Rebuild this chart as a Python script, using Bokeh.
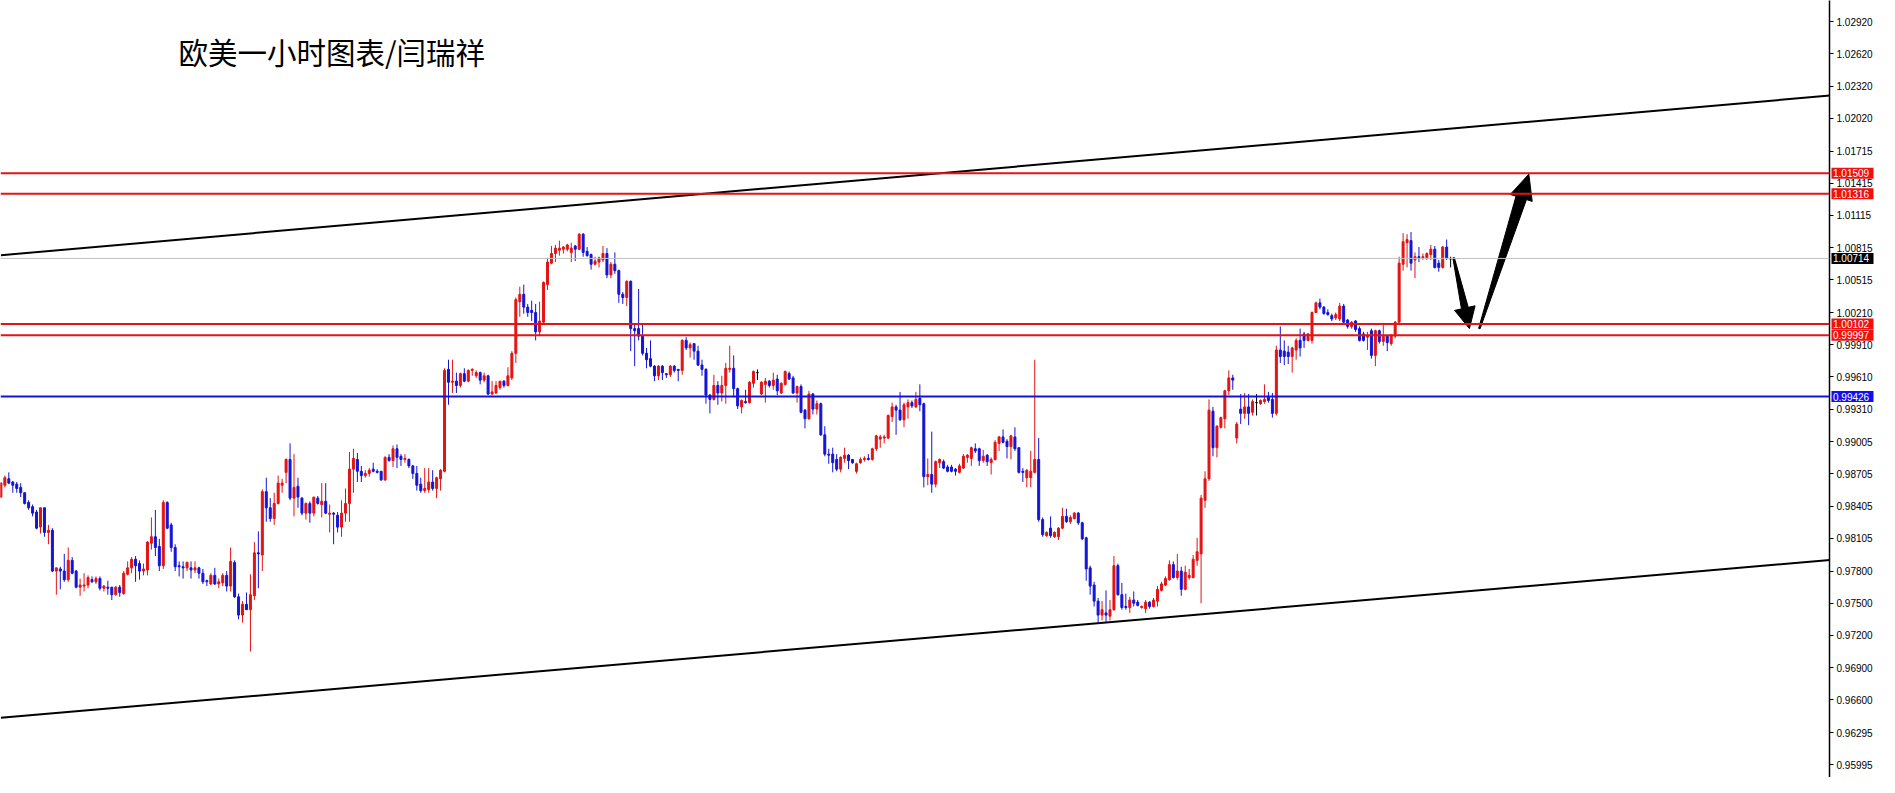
import math
from bokeh.plotting import figure
from bokeh.layouts import row
from bokeh.models import Range1d, FixedTicker, PrintfTickFormatter, Span, Label
from bokeh.core.properties import value
from bokeh.embed import file_html
from bokeh.resources import INLINE

TITLE = "欧美一小时图表/闫瑞祥"

OPEN = [
0.9849,0.9860,0.9866,0.9863,0.9861,0.9858,0.9853,0.9844,0.9840,0.9835,
0.9821,0.9839,0.9816,0.9818,0.9780,0.9782,0.9780,0.9772,0.9790,0.9780,
0.9765,0.9766,0.9767,0.9772,0.9770,0.9773,0.9764,0.9765,0.9765,0.9758,
0.9765,0.9759,0.9777,0.9783,0.9791,0.9787,0.9780,0.9781,0.9806,0.9812,
0.9803,0.9785,0.9844,0.9823,0.9802,0.9785,0.9784,0.9783,0.9783,0.9781,
0.9783,0.9778,0.9771,0.9768,0.9776,0.9768,0.9769,0.9776,0.9766,0.9788,
0.9756,0.9739,0.9749,0.9744,0.9757,0.9797,0.9795,0.9854,0.9839,0.9829,
0.9843,0.9860,0.9872,0.9884,0.9848,0.9859,0.9848,0.9834,0.9843,0.9834,
0.9848,0.9842,0.9845,0.9833,0.9834,0.9832,0.9821,0.9834,0.9843,0.9875,
0.9884,0.9873,0.9869,0.9871,0.9875,0.9873,0.9873,0.9865,0.9886,0.9883,
0.9894,0.9887,0.9884,0.9884,0.9878,0.9871,0.9861,0.9855,0.9856,0.9863,
0.9857,0.9866,0.9873,0.9968,0.9956,0.9957,0.9953,0.9964,0.9957,0.9967,
0.9962,0.9965,0.9958,0.9962,0.9945,0.9946,0.9951,0.9957,0.9953,0.9960,
0.9983,1.0031,1.0038,1.0026,1.0023,1.0021,1.0003,1.0012,1.0047,1.0067,
1.0076,1.0079,1.0080,1.0080,1.0077,1.0083,1.0080,1.0094,1.0078,1.0075,
1.0066,1.0068,1.0070,1.0076,1.0056,1.0066,1.0060,1.0038,1.0035,1.0050,
1.0006,1.0006,0.9999,0.9983,0.9978,0.9971,0.9962,0.9971,0.9964,0.9963,
0.9971,0.9968,0.9967,0.9995,0.9988,0.9992,0.9985,0.9972,0.9968,0.9944,
0.9940,0.9953,0.9946,0.9953,0.9968,0.9969,0.9950,0.9933,0.9938,0.9937,
0.9955,0.9965,0.9945,0.9954,0.9957,0.9953,0.9959,0.9946,0.9954,0.9964,
0.9960,0.9946,0.9952,0.9930,0.9922,0.9945,0.9931,0.9936,0.9907,0.9889,
0.9889,0.9884,0.9875,0.9885,0.9888,0.9884,0.9873,0.9881,0.9884,0.9885,
0.9884,0.9894,0.9903,0.9904,0.9904,0.9924,0.9933,0.9930,0.9921,0.9933,
0.9937,0.9933,0.9941,0.9936,0.9868,0.9870,0.9861,0.9881,0.9882,0.9877,
0.9877,0.9875,0.9872,0.9876,0.9886,0.9885,0.9894,0.9894,0.9883,0.9888,
0.9881,0.9884,0.9899,0.9905,0.9901,0.9896,0.9905,0.9895,0.9873,0.9867,
0.9867,0.9872,0.9884,0.9828,0.9813,0.9820,0.9812,0.9812,0.9820,0.9831,
0.9826,0.9829,0.9834,0.9825,0.9811,0.9783,0.9767,0.9752,0.9739,0.9741,
0.9738,0.9744,0.9785,0.9758,0.9747,0.9746,0.9753,0.9751,0.9746,0.9745,
0.9751,0.9747,0.9752,0.9762,0.9767,0.9772,0.9786,0.9774,0.9780,0.9763,
0.9774,0.9774,0.9790,0.9796,0.9846,0.9866,0.9929,0.9895,0.9914,0.9922,
0.9948,0.9960,0.9904,0.9931,0.9927,0.9933,0.9928,0.9937,0.9936,0.9938,
0.9943,0.9940,0.9927,0.9986,0.9985,0.9984,0.9980,0.9986,0.9995,1.0001,
0.9995,0.9995,1.0021,1.0030,1.0026,1.0021,1.0018,1.0016,1.0015,1.0027,
1.0014,1.0008,1.0013,1.0006,1.0001,0.9998,1.0004,0.9981,1.0004,0.9994,
0.9999,0.9992,0.9999,1.0012,1.0066,1.0086,1.0088,1.0070,1.0073,1.0072,
1.0072,1.0075,1.0080,1.0067,1.0063,1.0082,1.0071]

HIGH = [
0.9863,0.9869,0.9872,0.9864,0.9863,0.9862,0.9853,0.9846,0.9842,0.9837,
0.9839,0.9839,0.9823,0.9820,0.9783,0.9784,0.9796,0.9802,0.9793,0.9781,
0.9773,0.9778,0.9776,0.9775,0.9775,0.9775,0.9767,0.9771,0.9765,0.9766,
0.9767,0.9780,0.9789,0.9793,0.9794,0.9790,0.9787,0.9808,0.9830,0.9837,
0.9810,0.9846,0.9845,0.9825,0.9805,0.9789,0.9789,0.9789,0.9789,0.9789,
0.9784,0.9782,0.9772,0.9778,0.9783,0.9773,0.9778,0.9780,0.9802,0.9790,
0.9759,0.9752,0.9760,0.9777,0.9807,0.9817,0.9856,0.9867,0.9848,0.9853,
0.9869,0.9866,0.9885,0.9899,0.9889,0.9867,0.9849,0.9844,0.9845,0.9849,
0.9850,0.9862,0.9862,0.9842,0.9835,0.9835,0.9846,0.9857,0.9891,0.9894,
0.9890,0.9878,0.9874,0.9876,0.9881,0.9875,0.9873,0.9887,0.9889,0.9897,
0.9898,0.9889,0.9889,0.9885,0.9879,0.9878,0.9867,0.9876,0.9876,0.9874,
0.9868,0.9875,0.9969,0.9977,0.9977,0.9965,0.9965,0.9969,0.9968,0.9969,
0.9967,0.9966,0.9965,0.9963,0.9957,0.9957,0.9957,0.9958,0.9970,0.9985,
1.0035,1.0045,1.0047,1.0029,1.0032,1.0029,1.0031,1.0050,1.0072,1.0083,
1.0084,1.0088,1.0083,1.0085,1.0086,1.0084,1.0095,1.0095,1.0082,1.0076,
1.0073,1.0073,1.0083,1.0081,1.0068,1.0077,1.0061,1.0040,1.0051,1.0051,
1.0010,1.0043,1.0010,0.9988,0.9995,0.9972,0.9972,0.9972,0.9964,0.9972,
0.9972,0.9968,0.9996,0.9998,0.9993,0.9992,0.9990,0.9977,0.9969,0.9945,
0.9963,0.9957,0.9962,0.9974,0.9990,0.9981,0.9951,0.9940,0.9949,0.9957,
0.9967,0.9968,0.9957,0.9960,0.9958,0.9965,0.9963,0.9956,0.9967,0.9966,
0.9962,0.9953,0.9954,0.9931,0.9948,0.9946,0.9939,0.9937,0.9915,0.9894,
0.9895,0.9889,0.9887,0.9895,0.9889,0.9884,0.9881,0.9886,0.9887,0.9889,
0.9895,0.9907,0.9907,0.9907,0.9926,0.9937,0.9935,0.9947,0.9937,0.9940,
0.9939,0.9947,0.9954,0.9937,0.9885,0.9910,0.9883,0.9885,0.9884,0.9879,
0.9879,0.9876,0.9880,0.9889,0.9889,0.9896,0.9899,0.9895,0.9893,0.9889,
0.9886,0.9902,0.9906,0.9912,0.9903,0.9907,0.9914,0.9895,0.9876,0.9875,
0.9892,0.9977,0.9904,0.9830,0.9817,0.9831,0.9817,0.9821,0.9839,0.9838,
0.9832,0.9835,0.9835,0.9826,0.9812,0.9785,0.9770,0.9755,0.9752,0.9762,
0.9753,0.9794,0.9787,0.9769,0.9759,0.9756,0.9761,0.9753,0.9748,0.9753,
0.9752,0.9755,0.9766,0.9770,0.9775,0.9790,0.9789,0.9796,0.9784,0.9785,
0.9782,0.9795,0.9811,0.9851,0.9873,0.9940,0.9933,0.9916,0.9924,0.9949,
0.9967,0.9963,0.9919,0.9945,0.9946,0.9945,0.9940,0.9945,0.9940,0.9954,
0.9947,0.9946,0.9990,1.0008,0.9995,0.9990,0.9989,0.9997,1.0006,1.0003,
1.0002,1.0022,1.0031,1.0034,1.0027,1.0024,1.0020,1.0021,1.0030,1.0029,
1.0015,1.0013,1.0014,1.0008,1.0003,1.0003,1.0006,1.0005,1.0005,1.0010,
1.0000,1.0001,1.0013,1.0073,1.0095,1.0094,1.0096,1.0077,1.0082,1.0076,
1.0077,1.0084,1.0083,1.0070,1.0083,1.0089,1.0073]

LOW = [
0.9848,0.9858,0.9861,0.9853,0.9853,0.9849,0.9842,0.9837,0.9831,0.9819,
0.9815,0.9812,0.9805,0.9779,0.9758,0.9763,0.9770,0.9770,0.9777,0.9764,
0.9757,0.9761,0.9764,0.9769,0.9768,0.9762,0.9761,0.9758,0.9753,0.9757,
0.9756,0.9758,0.9776,0.9778,0.9770,0.9772,0.9776,0.9776,0.9800,0.9794,
0.9780,0.9782,0.9819,0.9798,0.9780,0.9775,0.9773,0.9780,0.9773,0.9778,
0.9773,0.9768,0.9766,0.9767,0.9767,0.9764,0.9766,0.9761,0.9761,0.9755,
0.9735,0.9732,0.9744,0.9705,0.9753,0.9764,0.9780,0.9826,0.9826,0.9823,
0.9842,0.9853,0.9862,0.9846,0.9831,0.9839,0.9832,0.9828,0.9825,0.9831,
0.9842,0.9830,0.9833,0.9816,0.9805,0.9816,0.9812,0.9826,0.9826,0.9853,
0.9863,0.9863,0.9867,0.9868,0.9872,0.9871,0.9864,0.9864,0.9882,0.9877,
0.9876,0.9878,0.9881,0.9876,0.9866,0.9855,0.9853,0.9853,0.9853,0.9855,
0.9848,0.9855,0.9872,0.9935,0.9946,0.9946,0.9951,0.9956,0.9956,0.9962,
0.9960,0.9954,0.9956,0.9944,0.9944,0.9945,0.9949,0.9951,0.9952,0.9958,
0.9974,1.0017,1.0020,1.0017,1.0013,0.9995,0.9999,1.0010,1.0042,1.0066,
1.0068,1.0074,1.0076,1.0078,1.0068,1.0069,1.0079,1.0073,1.0073,1.0061,
1.0065,1.0063,1.0068,1.0053,1.0053,1.0057,1.0030,1.0029,1.0027,0.9985,
0.9971,0.9995,0.9981,0.9969,0.9970,0.9957,0.9958,0.9958,0.9960,0.9961,
0.9965,0.9957,0.9963,0.9986,0.9979,0.9977,0.9971,0.9962,0.9936,0.9927,
0.9939,0.9935,0.9938,0.9936,0.9965,0.9942,0.9931,0.9927,0.9936,0.9936,
0.9951,0.9958,0.9944,0.9937,0.9951,0.9949,0.9944,0.9945,0.9953,0.9958,
0.9945,0.9937,0.9927,0.9913,0.9921,0.9926,0.9926,0.9906,0.9887,0.9880,
0.9872,0.9873,0.9872,0.9881,0.9875,0.9880,0.9871,0.9880,0.9882,0.9883,
0.9883,0.9892,0.9895,0.9899,0.9903,0.9919,0.9907,0.9920,0.9914,0.9922,
0.9932,0.9932,0.9929,0.9858,0.9860,0.9853,0.9858,0.9876,0.9875,0.9872,
0.9872,0.9869,0.9871,0.9875,0.9881,0.9878,0.9890,0.9878,0.9881,0.9878,
0.9870,0.9883,0.9892,0.9899,0.9885,0.9884,0.9892,0.9871,0.9863,0.9858,
0.9858,0.9871,0.9826,0.9812,0.9812,0.9811,0.9811,0.9809,0.9819,0.9825,
0.9824,0.9828,0.9823,0.9809,0.9771,0.9758,0.9747,0.9731,0.9734,0.9732,
0.9734,0.9743,0.9757,0.9744,0.9744,0.9741,0.9747,0.9747,0.9745,0.9741,
0.9745,0.9746,0.9747,0.9761,0.9766,0.9771,0.9773,0.9772,0.9757,0.9762,
0.9772,0.9773,0.9785,0.9750,0.9839,0.9864,0.9887,0.9886,0.9913,0.9913,
0.9944,0.9949,0.9899,0.9917,0.9922,0.9916,0.9925,0.9925,0.9935,0.9936,
0.9937,0.9923,0.9925,0.9974,0.9972,0.9973,0.9965,0.9977,0.9980,0.9988,
0.9994,0.9992,1.0021,1.0024,1.0019,1.0018,1.0013,1.0014,1.0013,1.0011,
1.0006,1.0006,1.0003,0.9994,0.9994,0.9986,0.9978,0.9971,0.9992,0.9990,
0.9985,0.9990,0.9997,1.0010,1.0060,1.0063,1.0060,1.0053,1.0068,1.0070,
1.0070,1.0070,1.0062,1.0059,1.0062,1.0070,1.0063]

CLOSE = [
0.9862,0.9867,0.9862,0.9860,0.9857,0.9853,0.9843,0.9839,0.9834,0.9820,
0.9839,0.9816,0.9818,0.9780,0.9783,0.9780,0.9772,0.9790,0.9778,0.9765,
0.9767,0.9767,0.9774,0.9770,0.9773,0.9764,0.9766,0.9764,0.9758,0.9765,
0.9760,0.9778,0.9783,0.9791,0.9785,0.9780,0.9782,0.9807,0.9812,0.9802,
0.9785,0.9844,0.9820,0.9802,0.9784,0.9784,0.9783,0.9788,0.9781,0.9783,
0.9778,0.9770,0.9770,0.9776,0.9768,0.9770,0.9776,0.9766,0.9789,0.9756,
0.9739,0.9749,0.9744,0.9758,0.9797,0.9796,0.9854,0.9839,0.9829,0.9843,
0.9862,0.9862,0.9884,0.9848,0.9858,0.9849,0.9834,0.9843,0.9834,0.9849,
0.9843,0.9845,0.9834,0.9834,0.9833,0.9821,0.9834,0.9843,0.9875,0.9885,
0.9873,0.9869,0.9871,0.9874,0.9873,0.9872,0.9865,0.9886,0.9883,0.9894,
0.9886,0.9884,0.9885,0.9878,0.9871,0.9860,0.9855,0.9857,0.9863,0.9857,
0.9867,0.9874,0.9967,0.9956,0.9957,0.9953,0.9964,0.9957,0.9967,0.9968,
0.9965,0.9958,0.9962,0.9945,0.9947,0.9953,0.9957,0.9953,0.9962,0.9983,
1.0033,1.0038,1.0026,1.0021,1.0021,1.0003,1.0013,1.0049,1.0068,1.0076,
1.0081,1.0081,1.0082,1.0084,1.0081,1.0080,1.0094,1.0077,1.0074,1.0066,
1.0069,1.0072,1.0076,1.0056,1.0066,1.0060,1.0038,1.0035,1.0050,1.0006,
1.0004,0.9999,0.9983,0.9977,0.9971,0.9962,0.9971,0.9965,0.9963,0.9971,
0.9967,0.9967,0.9995,0.9988,0.9991,0.9985,0.9972,0.9968,0.9944,0.9940,
0.9953,0.9946,0.9953,0.9969,0.9969,0.9950,0.9934,0.9939,0.9937,0.9956,
0.9966,0.9965,0.9956,0.9957,0.9953,0.9958,0.9948,0.9955,0.9966,0.9959,
0.9946,0.9952,0.9928,0.9922,0.9945,0.9931,0.9936,0.9907,0.9889,0.9888,
0.9881,0.9875,0.9886,0.9888,0.9883,0.9881,0.9880,0.9884,0.9885,0.9884,
0.9894,0.9906,0.9905,0.9905,0.9925,0.9933,0.9930,0.9921,0.9935,0.9937,
0.9934,0.9940,0.9935,0.9868,0.9870,0.9861,0.9882,0.9884,0.9876,0.9873,
0.9873,0.9873,0.9878,0.9887,0.9888,0.9895,0.9892,0.9883,0.9887,0.9882,
0.9884,0.9900,0.9905,0.9900,0.9896,0.9906,0.9894,0.9872,0.9872,0.9874,
0.9873,0.9884,0.9828,0.9814,0.9816,0.9813,0.9816,0.9820,0.9831,0.9826,
0.9830,0.9834,0.9825,0.9810,0.9782,0.9766,0.9752,0.9739,0.9744,0.9739,
0.9744,0.9785,0.9758,0.9746,0.9746,0.9753,0.9750,0.9748,0.9747,0.9751,
0.9747,0.9753,0.9763,0.9768,0.9773,0.9786,0.9774,0.9780,0.9763,0.9779,
0.9776,0.9791,0.9798,0.9848,0.9866,0.9930,0.9895,0.9915,0.9923,0.9948,
0.9960,0.9958,0.9917,0.9927,0.9933,0.9927,0.9938,0.9937,0.9939,0.9940,
0.9939,0.9927,0.9986,0.9980,0.9980,0.9980,0.9988,0.9995,0.9988,0.9995,
1.0001,1.0021,1.0030,1.0026,1.0020,1.0019,1.0015,1.0019,1.0027,1.0012,
1.0008,1.0012,1.0005,0.9995,0.9995,0.9999,0.9981,1.0004,0.9994,0.9999,
0.9993,0.9999,1.0012,1.0067,1.0087,1.0089,1.0067,1.0073,1.0072,1.0073,
1.0076,1.0080,1.0063,1.0063,1.0082,1.0072,1.0071]

Y_TICKS = [0.95995, 0.96295, 0.96600, 0.96900, 0.97200, 0.97500, 0.97800,
           0.98105, 0.98405, 0.98705, 0.99005, 0.99310, 0.99610, 0.99910,
           1.00210, 1.00515, 1.00815, 1.01115, 1.01415, 1.01715, 1.02020,
           1.02320, 1.02620, 1.02920]

RED_LEVELS = [1.01509, 1.01316, 1.00102, 0.99997]
BLUE_LEVELS = [0.99426]
LAST_PRICE = 1.00714

TREND_UPPER_X = [0, 461.75]
TREND_UPPER_Y = [1.00744, 1.02232]
TREND_LOWER_X = [0, 461.75]
TREND_LOWER_Y = [0.96433, 0.97903]

ARROW_FROM_X = [366.75, 373.25]
ARROW_FROM_Y = [1.0072, 1.0006]
ARROW_TO_X = [370.75, 385.75]
ARROW_TO_Y = [1.0006, 1.0150]

TAG_VALUES = [1.01509, 1.01316, 1.00714, 1.00102, 0.99997, 0.99426]
TAG_TEXTS = ["%.5f" % v for v in TAG_VALUES]

# ---- styling ----
RED = "#e31414"
BLUE = "#1414d8"
TAG_COLORS = ["#f01010", "#f01010", "#000000", "#f01010", "#f01010", "#1010f0"]

FRAME_W, FRAME_H = 1829, 777
AXIS_W = 50
X0, X1 = -0.1, 461.65
Y0, Y1 = 0.95876, 1.03118
KX = FRAME_W / (X1 - X0)
KY = FRAME_H / (Y1 - Y0)

yr = Range1d(Y0, Y1)
p = figure(frame_width=FRAME_W, frame_height=FRAME_H,
           x_range=Range1d(X0, X1), y_range=yr,
           output_backend="svg", toolbar_location=None,
           x_axis_location=None, y_axis_location="right",
           min_border_left=0, min_border_top=0, min_border_bottom=0,
           min_border_right=AXIS_W, outline_line_color=None,
           background_fill_color="white", border_fill_color="white")
p.grid.visible = False

ax = p.yaxis[0]
ax.ticker = FixedTicker(ticks=Y_TICKS)
ax.formatter = PrintfTickFormatter(format="%.5f")
ax.minor_tick_line_color = None
ax.major_tick_in = 0
ax.major_tick_out = 4
ax.major_tick_line_color = "black"
ax.axis_line_color = "black"
ax.axis_line_width = 1.5
ax.major_label_text_font = "Liberation Sans"
ax.major_label_text_font_size = "10px"
ax.major_label_text_color = "black"
ax.major_label_standoff = 3

# trend channel
p.line(TREND_UPPER_X, TREND_UPPER_Y, line_color="black", line_width=2)
p.line(TREND_LOWER_X, TREND_LOWER_Y, line_color="black", line_width=2)

# candles
idx = list(range(len(OPEN)))
colors = []
for o, c in zip(OPEN, CLOSE):
    if c > o:
        colors.append(RED)
    elif c < o:
        colors.append(BLUE)
    else:
        colors.append("#000000")
tops = [max(o, c) for o, c in zip(OPEN, CLOSE)]
bots = [min(o, c) for o, c in zip(OPEN, CLOSE)]
p.segment(x0=idx, y0=LOW, x1=idx, y1=HIGH, line_color=colors, line_width=1)
p.vbar(x=idx, width=0.5, top=tops, bottom=bots, fill_color=colors,
       line_color=colors, line_width=1)

# horizontal levels
p.add_layout(Span(location=LAST_PRICE, dimension="width",
                  line_color="#c0c0c0", line_width=1))
for v in RED_LEVELS:
    p.add_layout(Span(location=v, dimension="width", line_color=RED, line_width=2))
for v in BLUE_LEVELS:
    p.add_layout(Span(location=v, dimension="width", line_color=BLUE, line_width=2))


# arrows (drawn shapes)
def arrow_poly(xa, ya, xb, yb, head_len, head_w, shaft_w, tail_w):
    ax_, ay_ = (xa - X0) * KX, (ya - Y0) * KY
    bx_, by_ = (xb - X0) * KX, (yb - Y0) * KY
    dx, dy = bx_ - ax_, by_ - ay_
    L = math.hypot(dx, dy)
    ux, uy = dx / L, dy / L
    nx, ny = -uy, ux
    basex, basey = bx_ - ux * head_len, by_ - uy * head_len
    pts = [
        (ax_ + nx * tail_w / 2, ay_ + ny * tail_w / 2),
        (basex + nx * shaft_w / 2, basey + ny * shaft_w / 2),
        (basex + nx * head_w / 2, basey + ny * head_w / 2),
        (bx_, by_),
        (basex - nx * head_w / 2, basey - ny * head_w / 2),
        (basex - nx * shaft_w / 2, basey - ny * shaft_w / 2),
        (ax_ - nx * tail_w / 2, ay_ - ny * tail_w / 2),
    ]
    return ([X0 + px / KX for px, _ in pts], [Y0 + py / KY for _, py in pts])

ARROW_STYLE = [(21, 21, 7, 1.5), (25, 23, 11, 1.5)]
axs, ays = [], []
for i in range(len(ARROW_FROM_X)):
    hl, hw, sw, tw = ARROW_STYLE[i]
    xs, ys = arrow_poly(ARROW_FROM_X[i], ARROW_FROM_Y[i], ARROW_TO_X[i], ARROW_TO_Y[i],
                        hl, hw, sw, tw)
    axs.append(xs)
    ays.append(ys)
p.patches(axs, ays, fill_color="black", line_color="black", line_width=1)

# title
p.add_layout(Label(x=178, y=FRAME_H - 50, x_units="screen", y_units="screen",
                   text=TITLE, text_font="Noto Sans CJK SC",
                   text_font_size="29.5px", text_color="black",
                   text_baseline="middle", text_align="left"))

# transparent overlay strip over the axis area that carries the price tags
tags = figure(frame_width=AXIS_W, frame_height=FRAME_H,
              x_range=Range1d(0, AXIS_W), y_range=yr,
              output_backend="svg", toolbar_location=None,
              x_axis_location=None, y_axis_location=None,
              min_border=0, outline_line_color=None,
              background_fill_alpha=0, border_fill_alpha=0,
              margin=(0, 0, 0, -AXIS_W))
tags.grid.visible = False
tags.rect(x=23, y=TAG_VALUES, width=42, height=11, height_units="screen",
          fill_color=TAG_COLORS, line_color=None)
tags.text(x=3.5, y=TAG_VALUES, text=TAG_TEXTS, text_color="white",
          text_font=value("Liberation Sans"), text_font_size="10px",
          text_baseline="middle", text_align="left")

layout = row(p, tags, spacing=0)

with open("out.html", "w", encoding="utf-8") as f:
    f.write(file_html(layout, INLINE, "chart"))
